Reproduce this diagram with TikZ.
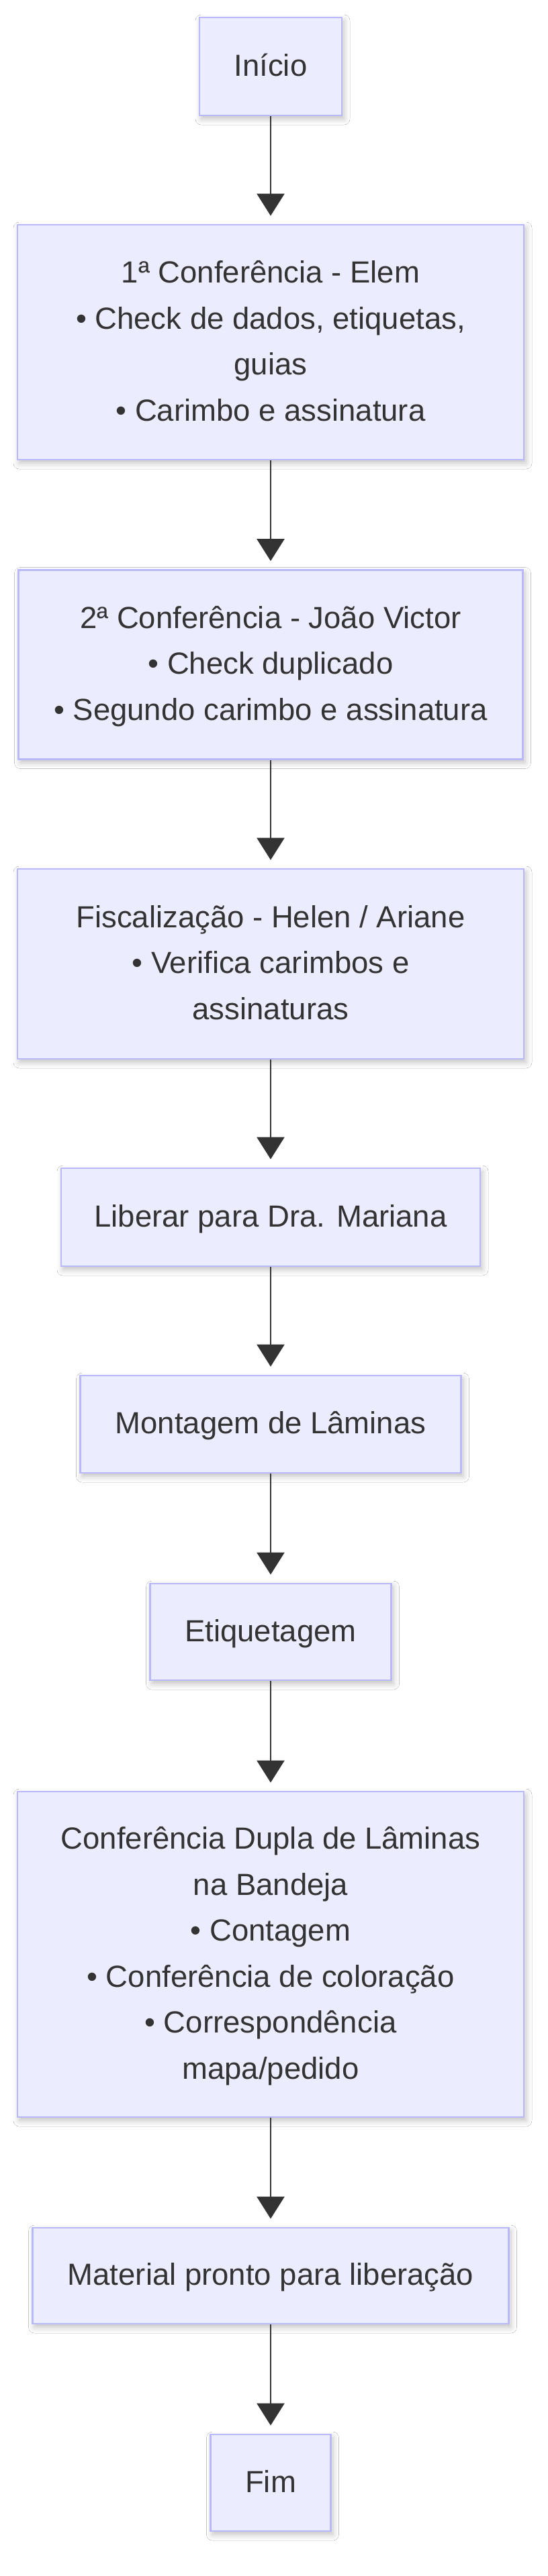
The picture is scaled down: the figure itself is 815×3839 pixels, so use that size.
\documentclass[tikz,border=0pt]{standalone}
\usepackage{fontspec}
\setmainfont{Liberation Sans}
\usetikzlibrary{arrows.meta,shadows.blur}
\definecolor{nodefill}{HTML}{ECECFF}
\definecolor{nodeline}{RGB}{185,185,250}
\definecolor{ink}{HTML}{333333}
\newcommand\lnstrut{\vrule width 0pt height 45pt depth 16.5pt}
\begin{document}
\begin{tikzpicture}[x=1pt,y=1pt,
  box/.style={draw=nodeline, fill=nodefill, line width=2.8pt, inner sep=0pt,
    align=center, text=ink, font=\fontsize{45.5}{68.5}\selectfont,
    blur shadow={shadow xshift=3pt, shadow yshift=-5pt, shadow blur radius=9pt, shadow opacity=25}},
  arr/.style={draw=ink, line width=2.6pt, -{Triangle[width=41pt,length=33pt]}, shorten >=12pt}]
\fill[white] (0,0) rectangle (815,-3839);
\useasboundingbox (0,0) rectangle (815,-3839);

\node[box, minimum width=212pt, minimum height=146pt] (a) at (403,-99) {\lnstrut Início};
\node[box, minimum width=754pt, minimum height=350pt] (b) at (403,-510)
  {\lnstrut 1ª Conferência - Elem\\\lnstrut • Check de dados, etiquetas,\\\lnstrut guias\\\lnstrut • Carimbo e assinatura};
\node[box, minimum width=751pt, minimum height=282pt] (c) at (403,-990.5)
  {\lnstrut 2ª Conferência - João Victor\\\lnstrut • Check duplicado\\\lnstrut • Segundo carimbo e assinatura};
\node[box, minimum width=754pt, minimum height=283pt] (d) at (403,-1436.5)
  {\lnstrut Fiscalização - Helen / Ariane\\\lnstrut • Verifica carimbos e\\\lnstrut assinaturas};
\node[box, minimum width=624pt, minimum height=146pt] (e) at (403,-1814) {\lnstrut Liberar para Dra. Mariana};
\node[box, minimum width=567pt, minimum height=145pt] (f) at (403,-2122.5) {\lnstrut Montagem de Lâminas};
\node[box, minimum width=359pt, minimum height=144pt] (g) at (403,-2432) {\lnstrut Etiquetagem};
\node[box, minimum width=754pt, minimum height=485pt] (h) at (403,-2912.5)
  {\lnstrut Conferência Dupla de Lâminas\\\lnstrut na Bandeja\\\lnstrut • Contagem\\\lnstrut • Conferência de coloração\\\lnstrut • Correspondência\\\lnstrut mapa/pedido};
\node[box, minimum width=709pt, minimum height=143pt] (i) at (403,-3391.5) {\lnstrut Material pronto para liberação};
\node[box, minimum width=179pt, minimum height=144pt] (j) at (403,-3700) {\lnstrut Fim};

\draw[arr] (a) -- (b);
\draw[arr] (b) -- (c);
\draw[arr] (c) -- (d);
\draw[arr] (d) -- (e);
\draw[arr] (e) -- (f);
\draw[arr] (f) -- (g);
\draw[arr] (g) -- (h);
\draw[arr] (h) -- (i);
\draw[arr] (i) -- (j);
\end{tikzpicture}
\end{document}
